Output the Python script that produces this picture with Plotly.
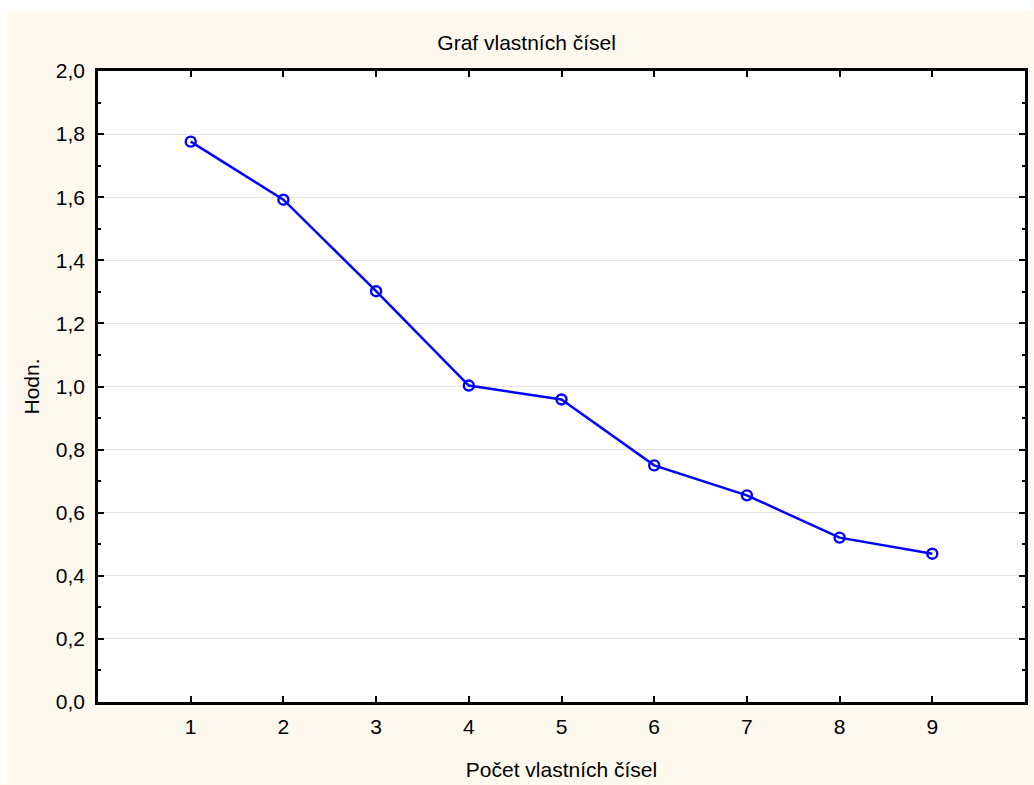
import plotly.graph_objects as go

# Eigenvalue scree data
pocet = [1, 2, 3, 4, 5, 6, 7, 8, 9]
hodnoty = [1.776, 1.592, 1.302, 1.003, 0.959, 0.750, 0.655, 0.521, 0.470]
x_ticks = [1, 2, 3, 4, 5, 6, 7, 8, 9]

W, H = 1034, 785
ML, MR, MT, MB = 98, 6, 71, 82
PW, PH = W - ML - MR, H - MT - MB

def px_x(p):
    return (p - ML) / PW

def px_y(p):
    return (H - MB - p) / PH

FONT = "Liberation Sans, Arial, sans-serif"
CREAM = "#FDF9EF"
FS = 21

fig = go.Figure()
fig.add_trace(go.Scatter(
    x=pocet, y=hodnoty, mode="lines+markers",
    line=dict(color="#0000FF", width=2.5),
    marker=dict(symbol="circle-open", size=10, color="#0000FF",
                line=dict(width=2.4, color="#0000FF")),
    showlegend=False, cliponaxis=False,
))

fig.update_layout(
    width=W, height=H,
    margin=dict(l=ML, r=MR, t=MT, b=MB),
    paper_bgcolor=CREAM, plot_bgcolor="white",
    separators=", ",
    font=dict(family=FONT, size=FS, color="black"),
    title=dict(text="Graf vlastních čísel", x=px_x(528), xref="paper",
               xanchor="center", y=1 - 43 / H, yanchor="middle",
               font=dict(size=FS)),
    shapes=[
        dict(type="rect", xref="paper", yref="paper", layer="above",
             x0=px_x(0), x1=px_x(W), y0=px_y(11), y1=px_y(0),
             line=dict(width=0), fillcolor="white"),
        dict(type="rect", xref="paper", yref="paper", layer="above",
             x0=px_x(0), x1=px_x(7), y0=px_y(H), y1=px_y(0),
             line=dict(width=0), fillcolor="white"),
    ],
)

fig.update_xaxes(
    range=[0, 10], tickvals=x_ticks, ticktext=[str(v) for v in x_ticks],
    showgrid=False, zeroline=False,
    showline=True, linecolor="black", linewidth=2.5, mirror="ticks",
    ticks="inside", ticklen=6, tickwidth=2, tickcolor="black",
    ticklabelstandoff=4,
    title=dict(text="Počet vlastních čísel", standoff=26, font=dict(size=FS)),
)
fig.update_yaxes(
    range=[0, 2.0], dtick=0.2, tick0=0, tickformat=".1f",
    showgrid=True, gridcolor="#E2E2E2", gridwidth=1, zeroline=False,
    showline=True, linecolor="black", linewidth=2.5, mirror="ticks",
    ticks="inside", ticklen=6, tickwidth=2, tickcolor="black",
    minor=dict(dtick=0.1, ticks="inside", ticklen=3, tickwidth=2,
               tickcolor="black", showgrid=False),
    ticklabelstandoff=6,
    title=dict(text="Hodn.", standoff=11, font=dict(size=FS)),
)

fig.write_html("out.html")
